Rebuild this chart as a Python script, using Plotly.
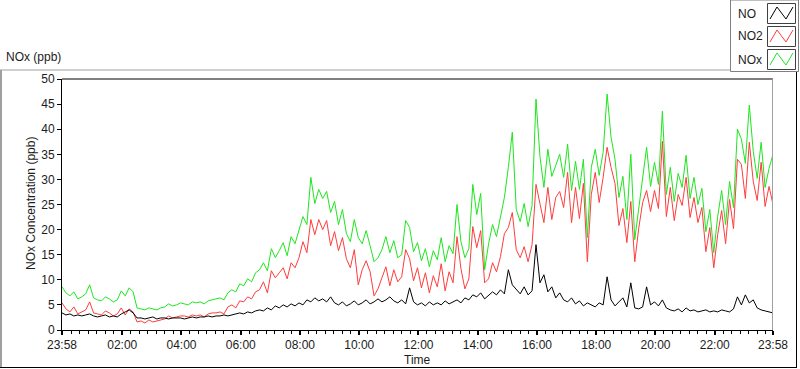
import datetime as dt
import plotly.graph_objects as go

# ---------------- data (8-minute samples, 23:58 -> 23:58 next day) ----------------
NOx = [8.6, 7.4, 6.8, 7.6, 6.2, 6.6, 7.2, 9.0, 6.4, 6.0,
       5.8, 6.6, 6.2, 5.6, 6.0, 7.8, 6.8, 8.4, 7.6, 4.4,
       4.2, 4.0, 4.4, 4.2, 4.0, 4.4, 4.6, 5.2, 4.8, 5.0,
       5.4, 5.2, 5.0, 5.6, 5.4, 5.6, 5.2, 5.8, 6.0, 6.2,
       6.4, 6.0, 7.4, 8.0, 7.6, 9.2, 8.8, 10.2, 9.6, 11.4,
       12.0, 13.4, 11.8, 16.2, 14.4, 15.8, 17.4, 14.8, 18.6, 17.2,
       19.8, 22.6, 21.0, 30.4, 25.2, 28.0, 26.2, 27.6, 23.4, 25.6,
       21.0, 24.0, 19.2, 17.6, 22.0, 18.4, 17.2, 19.8, 16.8, 13.6,
       14.4, 16.0, 18.6, 15.4, 17.8, 14.4, 15.0, 21.8, 20.4, 15.6,
       17.4, 13.8, 16.2, 12.6, 15.8, 14.0, 18.4, 13.6, 16.8, 15.2,
       25.0, 17.6, 14.4, 16.2, 29.0, 23.0, 27.2, 12.0, 17.2, 21.0,
       18.6, 22.6, 26.4, 32.4, 39.4, 24.0, 21.6, 25.2, 20.6, 24.8,
       46.0, 34.6, 28.4, 36.0, 30.6, 32.8, 35.0, 30.4, 37.0, 27.8,
       33.6, 28.0, 34.0, 18.4, 32.4, 36.0, 30.8, 35.4, 47.0, 38.4,
       34.0, 26.4, 30.6, 22.0, 35.0, 18.0, 24.4, 30.0, 36.4, 28.6,
       33.4, 29.0, 43.6, 27.0, 32.4, 25.6, 31.2, 28.4, 34.8, 26.2,
       30.4, 25.0, 28.2, 19.6, 24.0, 15.4, 22.6, 27.8, 21.0, 29.6,
       24.4, 40.0, 38.0, 33.2, 44.8, 35.6, 30.2, 37.4, 28.4, 32.2,
       35.0]

NO2 = [5.4, 4.2, 3.6, 4.6, 3.2, 3.6, 4.0, 5.6, 3.4, 3.2,
       3.0, 3.8, 3.4, 2.8, 3.2, 4.4, 3.0, 4.2, 3.6, 1.6,
       1.8, 1.4, 2.0, 1.6, 1.8, 2.0, 2.2, 2.8, 2.4, 2.6,
       2.8, 2.8, 2.6, 3.0, 2.8, 3.0, 2.6, 3.2, 3.4, 3.4,
       3.6, 3.2, 4.6, 5.0, 4.4, 5.8, 5.6, 6.6, 6.2, 7.6,
       8.0, 9.6, 7.4, 11.8, 10.4, 11.4, 12.4, 10.2, 13.4, 12.4,
       14.4, 17.6, 15.4, 22.0, 19.0, 22.0, 20.0, 21.8, 16.8, 19.6,
       15.8, 18.4, 14.2, 12.4, 16.0, 9.0, 12.0, 13.8, 11.6, 6.8,
       8.2, 10.4, 12.6, 8.8, 12.0, 9.6, 10.6, 16.0, 14.2, 9.8,
       12.4, 8.4, 11.4, 7.4, 10.8, 8.6, 13.2, 7.8, 11.6, 9.4,
       18.6, 12.2, 8.2, 10.2, 20.6, 16.4, 19.8, 9.4, 10.2, 13.4,
       11.6, 14.6, 19.2, 20.4, 23.4, 16.0, 14.4, 16.6, 13.6, 17.0,
       29.0, 25.2, 21.4, 28.4, 22.0, 26.4, 27.6, 24.4, 31.4, 21.4,
       28.4, 22.2, 29.2, 13.6, 27.0, 31.4, 25.4, 30.4, 36.4, 32.4,
       29.2, 20.8, 24.2, 17.4, 25.6, 13.6, 20.2, 25.4, 27.8, 23.6,
       27.8, 24.2, 37.6, 22.6, 28.4, 21.8, 27.0, 24.8, 30.4, 22.4,
       26.4, 21.4, 24.4, 15.6, 20.4, 12.4, 19.0, 23.8, 17.2, 26.0,
       20.2, 34.0, 33.0, 26.2, 37.4, 29.6, 25.8, 33.4, 24.6, 28.6,
       25.0]

NO = [3.4, 3.0, 3.2, 2.8, 3.0, 2.8, 3.0, 3.2, 2.8, 2.6,
      2.8, 3.0, 2.6, 2.8, 2.6, 3.2, 3.6, 4.0, 3.4, 2.4,
      2.4, 2.2, 2.4, 2.6, 2.2, 2.4, 2.4, 2.2, 2.4, 2.4,
      2.4, 2.2, 2.4, 2.6, 2.4, 2.6, 2.6, 2.8, 2.6, 2.8,
      2.8, 3.0, 2.8, 3.0, 3.2, 3.4, 3.2, 3.6, 3.4, 3.8,
      4.0, 3.8, 4.4, 4.0, 4.8, 4.4, 5.0, 4.6, 5.2, 4.8,
      5.4, 5.0, 6.0, 5.6, 6.4, 5.8, 6.2, 5.6, 6.6, 5.4,
      5.0, 5.6, 4.8, 5.2, 5.8, 5.0, 5.4, 6.0, 5.2, 5.6,
      6.2, 5.6, 6.0, 6.6, 5.8, 5.4, 6.0, 5.2, 8.4, 5.6,
      5.0, 5.4, 4.8, 5.6, 5.0, 5.4, 5.0, 5.8, 5.2, 5.6,
      6.0, 5.4, 6.4, 6.0, 7.0, 6.6, 7.4, 6.2, 7.0, 7.6,
      7.0, 8.0, 7.2, 12.0, 9.0, 8.0, 7.2, 8.6, 7.0, 7.8,
      17.0, 9.4, 11.0, 7.6, 8.6, 6.4, 7.4, 6.0, 5.6, 6.4,
      5.2, 5.8, 4.8, 5.4, 5.0, 4.6, 5.4, 5.0, 10.6, 6.0,
      4.8, 5.6, 6.4, 4.6, 9.4, 4.4, 4.2, 4.6, 8.6, 5.0,
      5.6, 4.8, 6.0, 4.4, 4.0, 3.8, 4.2, 3.6, 4.4, 3.8,
      4.0, 3.6, 3.8, 4.0, 3.6, 3.8, 3.6, 4.0, 3.8, 3.6,
      4.2, 6.6, 5.0, 7.0, 5.4, 6.0, 4.4, 4.0, 3.8, 3.6,
      3.4]

series_names = ["NO", "NO2", "NOx"]
series_colors = {"NO": "#000000", "NO2": "#ff3c3c", "NOx": "#1ee61e"}
tick_labels = ["23:58", "02:00", "04:00", "06:00", "08:00", "10:00", "12:00",
               "14:00", "16:00", "18:00", "20:00", "22:00", "23:58"]
y_ticks = [0, 5, 10, 15, 20, 25, 30, 35, 40, 45, 50]

# ---------------- time axis ----------------
start = dt.datetime(2021, 1, 1, 23, 58)
end = start + dt.timedelta(minutes=1440)
step = dt.timedelta(minutes=8)
times = [start + i * step for i in range(len(NOx))]

day2 = dt.datetime(2021, 1, 2, 0, 0)
tick_vals = [start] + [day2 + dt.timedelta(hours=h) for h in range(2, 24, 2)] + [end]
minor_vals = []
k = 0
while True:
    t = day2 + dt.timedelta(minutes=k * 120 / 7)
    if t > end:
        break
    minor_vals.append(t)
    k += 1
minor_vals.append(end)

# ---------------- figure ----------------
W, H = 800, 369
L, R, T, B = 62, 773, 79, 330


def px(x):
    return (x - L) / (R - L)


def py(y):
    return (B - y) / (B - T)


fig = go.Figure()
for name, vals in [("NOx", NOx), ("NO2", NO2), ("NO", NO)]:
    fig.add_trace(go.Scatter(x=times, y=vals, mode="lines", name=name,
                             line=dict(color=series_colors[name], width=1),
                             showlegend=False, hoverinfo="x+y"))

font = dict(family="Liberation Sans, Arial, sans-serif", size=12, color="#1c1c1c")

fig.update_layout(
    width=W, height=H,
    margin=dict(l=L, r=W - R, t=T, b=H - B, pad=0),
    paper_bgcolor="white", plot_bgcolor="white",
    font=font,
    xaxis=dict(type="date", range=[start, end], showgrid=False, zeroline=False,
               showline=True, linecolor="#000000", linewidth=1,
               tickmode="array", tickvals=tick_vals, ticktext=tick_labels,
               ticks="outside", ticklen=4, tickwidth=2, tickcolor="#000000",
               tickfont=font,
               minor=dict(tickmode="array", tickvals=minor_vals, ticks="outside",
                          ticklen=3, tickwidth=1, tickcolor="#000000", showgrid=False)),
    yaxis=dict(range=[0, 50], showgrid=False, zeroline=False,
               showline=True, linecolor="#000000", linewidth=1,
               tickmode="array", tickvals=y_ticks,
               ticks="outside", ticklen=4, tickwidth=1, tickcolor="#000000",
               tickfont=font),
)

shapes = []
# plot area top (black) and right (gray) borders
shapes.append(dict(type="line", xref="paper", yref="paper", x0=0, x1=1, y0=1, y1=1,
                   line=dict(color="#000000", width=1)))
shapes.append(dict(type="line", xref="paper", yref="paper", x0=px(772.5), x1=px(772.5),
                   y0=py(330), y1=py(79), line=dict(color="#a0a0a0", width=1)))
# outer frame
shapes.append(dict(type="line", xref="paper", yref="paper", x0=px(1), x1=px(1),
                   y0=py(70), y1=py(368), line=dict(color="#a0a0a0", width=2)))
shapes.append(dict(type="line", xref="paper", yref="paper", x0=px(0), x1=px(730),
                   y0=py(70), y1=py(70), line=dict(color="#a0a0a0", width=1)))
shapes.append(dict(type="line", xref="paper", yref="paper", x0=px(796.5), x1=px(796.5),
                   y0=py(71), y1=py(368), line=dict(color="#000000", width=1)))
shapes.append(dict(type="line", xref="paper", yref="paper", x0=px(0), x1=px(797),
                   y0=py(367.5), y1=py(367.5), line=dict(color="#000000", width=1)))
# legend box
shapes.append(dict(type="rect", xref="paper", yref="paper", x0=px(730.5), x1=px(798.5),
                   y0=py(71.5), y1=py(0), fillcolor="white",
                   line=dict(color="#808080", width=1)))
annotations = []
for i, name in enumerate(series_names):
    top = 3 + i * 23
    bot = top + 20
    shapes.append(dict(type="rect", xref="paper", yref="paper", x0=px(767.5), x1=px(795.5),
                       y0=py(bot + 0.5), y1=py(top + 0.5), fillcolor="white",
                       line=dict(color="#404040", width=1)))
    pts = [(770, bot - 4), (777, top + 4), (786, bot - 4), (793, top + 4)]
    path = "M " + " L ".join(f"{px(x):.5f},{py(y):.5f}" for x, y in pts)
    shapes.append(dict(type="path", xref="paper", yref="paper", path=path,
                       line=dict(color=series_colors[name], width=1)))
    annotations.append(dict(text=name, xref="paper", yref="paper", x=px(736), y=py(top + 10.5),
                            xanchor="left", yanchor="middle", showarrow=False, font=font))

annotations.append(dict(text="NOx (ppb)", xref="paper", yref="paper", x=px(4), y=py(57),
                        xanchor="left", yanchor="middle", showarrow=False, font=font))
annotations.append(dict(text="NOx Concentration (ppb)", xref="paper", yref="paper",
                        x=px(31), y=py(204), textangle=-90, xanchor="center",
                        yanchor="middle", showarrow=False, font=font))
annotations.append(dict(text="Time", xref="paper", yref="paper", x=px(417), y=py(360),
                        xanchor="center", yanchor="middle", showarrow=False, font=font))

fig.update_layout(shapes=shapes, annotations=annotations)
fig.write_html("out.html", config={"displayModeBar": False},
               post_script="document.body.style.margin='0';document.body.style.overflow='hidden';")
